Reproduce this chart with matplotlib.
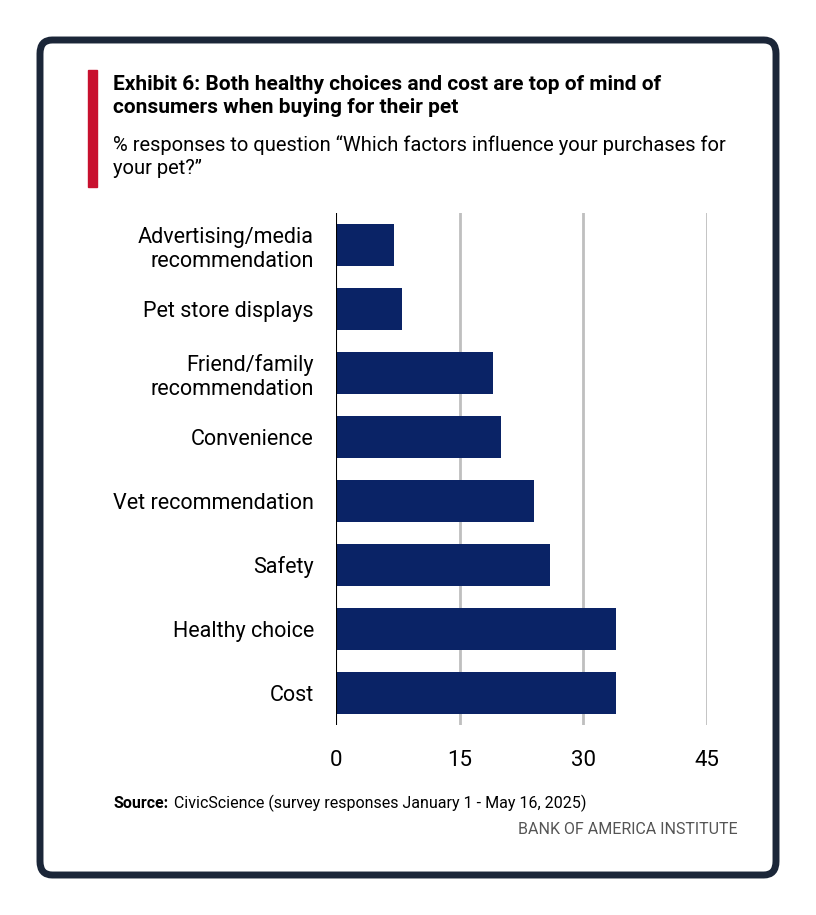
import matplotlib
matplotlib.use('Agg')
import matplotlib.pyplot as plt
from matplotlib.patches import FancyBboxPatch, Rectangle

plt.rcParams['font.family'] = ['Liberation Sans Narrow', 'Roboto', 'DejaVu Sans']

# data (bottom to top)
categories = ['Cost', 'Healthy choice', 'Safety', 'Vet recommendation', 'Convenience',
              'Friend/family\nrecommendation', 'Pet store displays',
              'Advertising/media\nrecommendation']
values = [34, 34, 26, 24, 20, 19, 8, 7]
xticks = [0, 15, 30, 45]

NAVY = '#0a2366'
W, H = 816, 915
fig = plt.figure(figsize=(W / 100, H / 100), dpi=100)

# outer rounded frame
fig.patches.append(FancyBboxPatch((40 / W, 1 - 875 / H), 736 / W, 835 / H,
                                  boxstyle='round,pad=0,rounding_size=0.015',
                                  transform=fig.transFigure, fill=False,
                                  edgecolor='#1b2638', linewidth=5))
# red accent bar
fig.patches.append(Rectangle((88 / W, 1 - 187 / H), 9 / W, 117 / H,
                             transform=fig.transFigure, color='#c8102e'))

fig.text(113 / W, 1 - 75 / H,
         'Exhibit 6: Both healthy choices and cost are top of mind of\nconsumers when buying for their pet',
         fontsize=15, fontweight='bold', va='top', ha='left', linespacing=1.25)
fig.text(113 / W, 1 - 135 / H,
         '% responses to question \u201cWhich factors influence your purchases for\nyour pet?\u201d',
         fontsize=14.5, va='top', ha='left', linespacing=1.25)

ax = fig.add_axes([336 / W, 1 - 725 / H, 371 / W, 512 / H])
ax.barh(range(len(values)), values, height=0.66, color=NAVY, zorder=3)
ax.set_xlim(0, 45)
ax.set_ylim(-0.5, len(values) - 0.5)
ax.set_xticks(xticks)
ax.set_xticklabels([str(t) for t in xticks], fontsize=16)
ax.set_yticks(range(len(values)))
ax.set_yticklabels(categories, fontsize=15.5, linespacing=1.2)
ax.tick_params(length=0, pad=16, axis='y')
ax.tick_params(length=0, pad=18, axis='x')
for t in xticks[1:]:
    ax.axvline(t, color='#bfbfbf', linewidth=2, zorder=1)
ax.axvline(0, color='black', linewidth=1.5, zorder=4)
for s in ax.spines.values():
    s.set_visible(False)

fig.text(113 / W, 1 - 803 / H, 'Source:', fontsize=11.5, fontweight='bold', va='center')
fig.text(174 / W, 1 - 803 / H, 'CivicScience (survey responses January 1 - May 16, 2025)',
         fontsize=11.5, va='center')
fig.text(738 / W, 1 - 829 / H, 'BANK OF AMERICA INSTITUTE', fontsize=11.5,
         color='#555555', va='center', ha='right')

fig.savefig('out.png', dpi=100)
